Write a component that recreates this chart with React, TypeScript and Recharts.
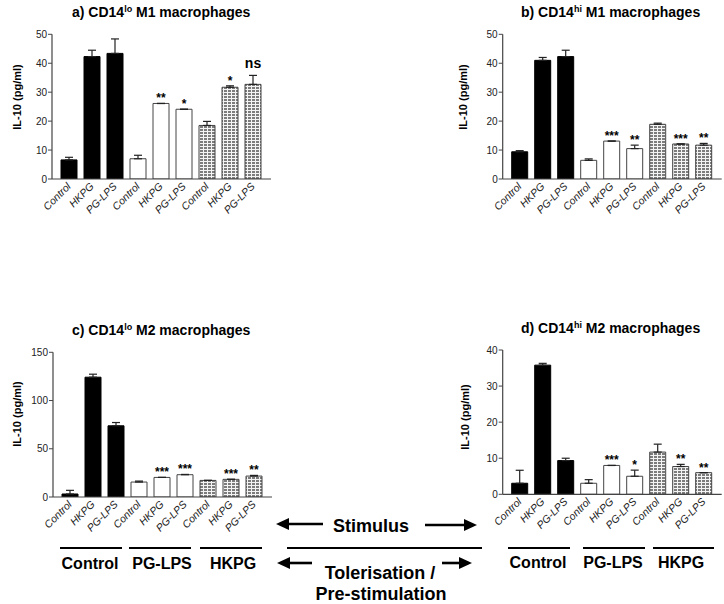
import React from 'react';
import { BarChart, Bar, XAxis, YAxis, Cell, ErrorBar, LabelList } from 'recharts';

const FONT = '"Liberation Sans", Arial, Helvetica, sans-serif';

// ---------- DATA ----------
const categories = ['Control', 'HKPG', 'PG-LPS', 'Control', 'HKPG', 'PG-LPS', 'Control', 'HKPG', 'PG-LPS'];
const groupLabels = ['Control', 'PG-LPS', 'HKPG'];

const aValues = [6.6, 42.3, 43.4, 7.0, 26.1, 24.1, 18.5, 31.7, 32.7];
const aErrors = [0.9, 2.2, 5.0, 1.2, 0, 0, 1.4, 0.5, 3.1];
const aSig = ['', '', '', '', '**', '*', '', '*', 'ns'];
const aTicks = [0, 10, 20, 30, 40, 50];

const bValues = [9.4, 41.0, 42.3, 6.45, 13.1, 10.5, 18.9, 12.1, 11.7];
const bErrors = [0.4, 1.0, 2.2, 0.5, 0, 1.2, 0.4, 0, 0.6];
const bSig = ['', '', '', '', '***', '**', '', '***', '**'];
const bTicks = [0, 10, 20, 30, 40, 50];

const cValues = [3.1, 124.2, 73.8, 15.5, 20.3, 23.1, 17.2, 18.3, 21.7];
const cErrors = [3.8, 3.1, 3.4, 1.0, 0, 0.3, 0, 0, 0.7];
const cSig = ['', '', '', '', '***', '***', '', '***', '**'];
const cTicks = [0, 50, 100, 150];

const dValues = [3.06, 35.8, 9.35, 3.06, 8.0, 5.0, 11.7, 7.7, 6.0];
const dErrors = [3.6, 0.5, 0.65, 1.0, 0, 1.7, 2.2, 0.6, 0];
const dSig = ['', '', '', '', '***', '*', '', '**', '**'];
const dTicks = [0, 10, 20, 30, 40];

const titles = [
  { pre: 'a) CD14', sup: 'lo', post: ' M1 macrophages' },
  { pre: 'b) CD14', sup: 'hi', post: ' M1 macrophages' },
  { pre: 'c) CD14', sup: 'lo', post: ' M2 macrophages' },
  { pre: 'd) CD14', sup: 'hi', post: ' M2 macrophages' },
];
const yLabel = 'IL-10 (pg/ml)';
const stimulusLabel = 'Stimulus';
const tolLabel1 = 'Tolerisation /';
const tolLabel2 = 'Pre-stimulation';

// ---------- LAYOUT ----------
const panels = [
  { values: aValues, errors: aErrors, sig: aSig, ticks: aTicks,
    box: { left: 0, top: 0, width: 300, height: 260 }, margin: { top: 34.3, right: 29, bottom: 51, left: 0 }, yWidth: 52,
    title: { x: 72, y: 17 }, ylab: { x: 21, y: 97 } },
  { values: bValues, errors: bErrors, sig: bSig, ticks: bTicks,
    box: { left: 450, top: 0, width: 274, height: 260 }, margin: { top: 34.3, right: 2.3, bottom: 51, left: 0 }, yWidth: 52.7,
    title: { x: 521, y: 17 }, ylab: { x: 467, y: 97 } },
  { values: cValues, errors: cErrors, sig: cSig, ticks: cTicks,
    box: { left: 0, top: 300, width: 300, height: 260 }, margin: { top: 52.3, right: 28, bottom: 33, left: 0 }, yWidth: 53,
    title: { x: 72, y: 335 }, ylab: { x: 21, y: 414 } },
  { values: dValues, errors: dErrors, sig: dSig, ticks: dTicks,
    box: { left: 450, top: 300, width: 274, height: 260 }, margin: { top: 50, right: 2.3, bottom: 35.7, left: 0 }, yWidth: 52.7,
    title: { x: 521, y: 333 }, ylab: { x: 469, y: 417 } },
];

const fillFor = (i: number) => (i < 3 ? '#000' : i < 6 ? '#fff' : 'url(#checkPattern)');
const strokeFor = (i: number) => (i < 3 ? '#000' : '#444');

const XTick = (props: any) => {
  const { x, y, payload } = props;
  const label = categories[payload.value] ?? '';
  return (
    <text
      transform={`translate(${x + 3},${y + 8}) rotate(-45)`}
      textAnchor="end"
      fontSize={10.5}
      fontStyle="italic"
      fontFamily={FONT}
      fill="#222"
    >
      {label}
    </text>
  );
};

function Panel({ cfg }: { cfg: any }) {
  const data = categories.map((c, i) => ({ idx: i, value: cfg.values[i], err: [0, cfg.errors[i]] }));
  const max = cfg.ticks[cfg.ticks.length - 1];
  const renderSig = (props: any) => {
    const vb = props.viewBox || props;
    const x = vb.x ?? props.x;
    const y = vb.y ?? props.y;
    const width = vb.width ?? props.width;
    const height = vb.height ?? props.height;
    const index = props.index;
    const s = cfg.sig[index];
    if (!s) return null;
    const v = cfg.values[index];
    const ppu = Math.abs(height) / v;
    const top = Math.min(y, y + height) - cfg.errors[index] * ppu;
    const cx = x + width / 2;
    if (s === 'ns') {
      return (
        <text x={cx} y={top - 7} textAnchor="middle" fontSize={14} fontWeight="bold" fontFamily={FONT} fill="#000">
          {s}
        </text>
      );
    }
    return (
      <text x={cx} y={top - 1} textAnchor="middle" fontSize={12} fontWeight="bold" fontFamily={FONT} fill="#000">
        {s}
      </text>
    );
  };
  return (
    <div style={{ position: 'absolute', left: cfg.box.left, top: cfg.box.top }}>
      <BarChart width={cfg.box.width} height={cfg.box.height} data={data} margin={cfg.margin} barSize={16}>
        <XAxis
          dataKey="idx"
          type="category"
          padding={{ left: 5, right: 7 }}
          tickLine={false}
          tickSize={0}
          tickMargin={0}
          axisLine={{ stroke: '#444', strokeWidth: 1.2 }}
          tick={<XTick />}
          interval={0}
          height={30}
        />
        <YAxis
          width={cfg.yWidth}
          domain={[0, max]}
          ticks={cfg.ticks}
          interval={0}
          tickSize={4}
          tickMargin={1}
          axisLine={{ stroke: '#444', strokeWidth: 1.2 }}
          tickLine={{ stroke: '#444' }}
          tick={{ fontSize: 10, fill: '#222', fontFamily: FONT }}
          allowDataOverflow
        />
        <Bar dataKey="value" isAnimationActive={false}>
          {data.map((d, i) => (
            <Cell key={i} fill={fillFor(i)} stroke={strokeFor(i)} strokeWidth={1} />
          ))}
          <ErrorBar dataKey="err" width={4} strokeWidth={1.2} stroke="#222" direction="y" isAnimationActive={false} />
          <LabelList dataKey="value" content={renderSig} />
        </Bar>
      </BarChart>
    </div>
  );
}

const Arrow = ({ x1, x2, y }: { x1: number; x2: number; y: number }) => {
  const dir = x2 > x1 ? 1 : -1;
  const headLen = 13;
  const hb = x2 - dir * headLen;
  return (
    <g>
      <line x1={x1} y1={y} x2={hb} y2={y} stroke="#000" strokeWidth={2.6} />
      <polygon points={`${x2},${y} ${hb},${y - 6} ${hb},${y + 6}`} fill="#000" />
    </g>
  );
};

export default function App() {
  const leftGroupLines = [[60, 122], [129, 191], [200, 262]];
  const leftGroupCenters = [90, 162, 233];
  const rightGroupLines = [[508, 570], [583, 645], [653, 714]];
  const rightGroupCenters = [538, 613, 681];
  return (
    <div style={{ position: 'absolute', left: 0, top: 0, width: 724, height: 604, background: '#fff', overflow: 'hidden' }}>
      {panels.map((p, i) => (
        <Panel key={i} cfg={p} />
      ))}
      <svg width={724} height={604} style={{ position: 'absolute', left: 0, top: 0, pointerEvents: 'none' }}>
        <defs>
          <pattern id="checkPattern" patternUnits="userSpaceOnUse" width={4} height={3}>
            <rect x={0} y={0} width={4} height={3} fill="#f4f4f4" />
            <rect x={0} y={0} width={3} height={2} fill="#7c7c7c" />
          </pattern>
        </defs>
        {panels.map((p, i) => (
          <g key={i}>
            <text x={p.title.x} y={p.title.y} fontSize={14} fontWeight="bold" fontFamily={FONT} fill="#000">
              {titles[i].pre}
              <tspan fontSize={9} dy={-5}>{titles[i].sup}</tspan>
              <tspan dy={5}>{titles[i].post}</tspan>
            </text>
            <text
              x={p.ylab.x}
              y={p.ylab.y}
              transform={`rotate(-90, ${p.ylab.x}, ${p.ylab.y})`}
              textAnchor="middle"
              fontSize={11}
              fontWeight="bold"
              fontFamily={FONT}
              fill="#000"
            >
              {yLabel}
            </text>
          </g>
        ))}
        {leftGroupLines.map((l, i) => (
          <line key={'ll' + i} x1={l[0]} x2={l[1]} y1={548} y2={548} stroke="#000" strokeWidth={2} />
        ))}
        {rightGroupLines.map((l, i) => (
          <line key={'rl' + i} x1={l[0]} x2={l[1]} y1={548} y2={548} stroke="#000" strokeWidth={2} />
        ))}
        {groupLabels.map((g, i) => (
          <text key={'lg' + i} x={leftGroupCenters[i]} y={569} textAnchor="middle" fontSize={16} fontWeight="bold" fontFamily={FONT}>
            {g}
          </text>
        ))}
        {groupLabels.map((g, i) => (
          <text key={'rg' + i} x={rightGroupCenters[i]} y={567.5} textAnchor="middle" fontSize={16} fontWeight="bold" fontFamily={FONT}>
            {g}
          </text>
        ))}
        <line x1={287} x2={482} y1={548} y2={548} stroke="#000" strokeWidth={2} />
        <Arrow x1={323} x2={276} y={524} />
        <Arrow x1={425} x2={477} y={525} />
        <Arrow x1={312} x2={277} y={563} />
        <Arrow x1={442} x2={472} y={563} />
        <text x={371} y={531.5} textAnchor="middle" fontSize={18} fontWeight="bold" fontFamily={FONT}>
          {stimulusLabel}
        </text>
        <text x={380} y={579} textAnchor="middle" fontSize={18} fontWeight="bold" fontFamily={FONT}>
          {tolLabel1}
        </text>
        <text x={381} y={600} textAnchor="middle" fontSize={18} fontWeight="bold" fontFamily={FONT}>
          {tolLabel2}
        </text>
      </svg>
    </div>
  );
}
